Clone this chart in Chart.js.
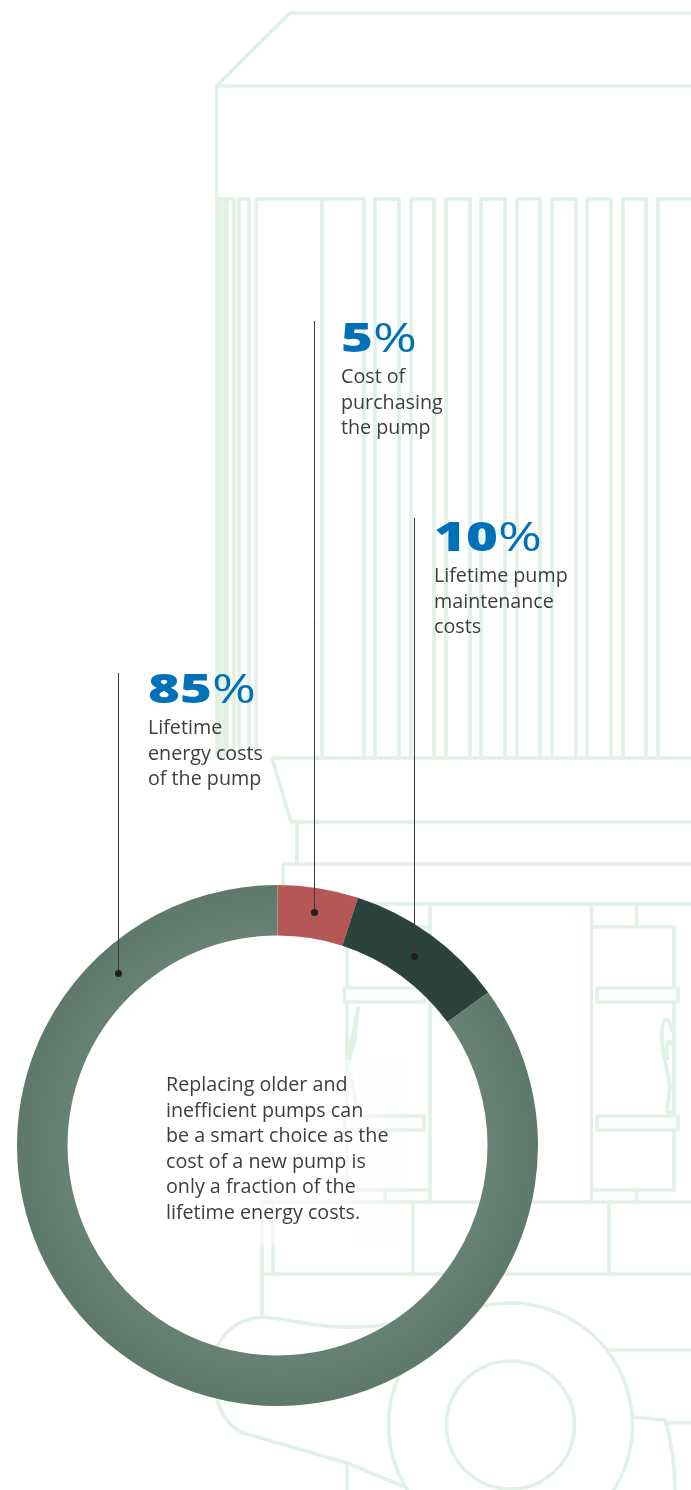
<!DOCTYPE html>
<html>
<head>
<meta charset="utf-8">
<title>Pump lifetime costs</title>
<script src="https://cdn.jsdelivr.net/npm/chart.js@4/dist/chart.umd.min.js"></script>
<style>
    html, body { margin: 0; padding: 0; background: #fff; }
    #page { position: relative; width: 691px; height: 1490px; overflow: hidden; font-family: "Open Sans", sans-serif; color: #3d3d3d; }
    #pump, #costChart { position: absolute; left: 0; top: 0; }
    #veil { position: absolute; left: 150px; top: 1060px; width: 260px; height: 185px; background: linear-gradient(to right, rgba(255,255,255,.55) 80%, rgba(255,255,255,0)); }
    .callout { position: absolute; }
    .callout .pct { height: 36px; font: 800 41px/36px "Open Sans", sans-serif; color: #0070b8; white-space: nowrap; transform-origin: 0 0; transform: scaleX(1.33); }
    .callout .pct span { font-weight: 400; font-size: 40px; }
    .callout .txt { margin-top: 9px; font-size: 19.7px; line-height: 25.6px; font-weight: 400; white-space: pre-line; }
    #note { position: absolute; left: 166px; top: 1071px; font-size: 19.7px; line-height: 25.6px; font-weight: 400; white-space: pre-line; }
</style>
</head>
<body>
<div id="page">
    <svg id="pump" width="691" height="1490" fill="none" stroke="#e2f1e5" stroke-width="3.6" stroke-linejoin="round">
        <path id="columns" d=""/>
        <path d="M691 13H290L216.5 86V199M216.5 86H691"/>
        <path d="M272 758H691M272 758L291 822H691M297 822V864M283 885V864H691"/>
        <path d="M347 904H691M430 904V1202M591.500 904V1202M636.500 904V927M591.500 927H674V987M347 927H430M347 927V987"/>
        <path d="M344.500 988H424V1002H344.500ZM597 988H678V1002H597Z"/>
        <path d="M344.500 1116H424V1130H344.500ZM597 1116H678V1130H597Z"/>
        <path d="M347 1002V1116M674 1002V1116M674 1130V1190H591.500M347 1130V1190H430M385 1190V1202M636.500 1190V1202"/>
        <path d="M358 1007C355 1025 352 1035 347 1067M358 1007L355 1040L347 1067M350 1073L358 1113"/>
        <path d="M672 1032C670 1020 664 1012 662 1030C660 1048 668 1072 670 1085L667 1112H672M672 1045C668 1036 665 1045 668 1060"/>
        <path d="M262 1202H691M262 1202V1317M273 1202V1274M413 1202V1274M609 1202V1274M262 1274H691"/>
        <circle cx="510.500" cy="1425" r="122"/>
        <circle cx="510.500" cy="1425" r="64"/>
        <path d="M607 1350H691M632 1417L665 1420C671 1440 675 1465 675 1490M667 1423H691"/>
        <path d="M393 1323C370 1328 345 1328 325 1326C300 1323 280 1318 262 1317C240 1319 225 1330 217 1347M217 1400C222 1416 230 1427 243 1433L347 1463L407 1488M347 1463V1490"/>
    </svg>
    <canvas id="costChart" width="691" height="1490"></canvas>
    <div id="veil"></div>
    <div class="callout" style="left:341px;top:318px"><div class="pct" data-i="0"></div><div class="txt" data-i="0"></div></div>
    <div class="callout" style="left:434px;top:517px"><div class="pct" data-i="1"></div><div class="txt" data-i="1"></div></div>
    <div class="callout" style="left:148px;top:669px"><div class="pct" data-i="2"></div><div class="txt" data-i="2"></div></div>
    <div id="note"></div>
</div>
<script>
// Chart data
const categories = ['Cost of\npurchasing\nthe pump', 'Lifetime pump\nmaintenance\ncosts', 'Lifetime\nenergy costs\nof the pump'];
const shares = [5, 10, 85];
const sliceColors = ['#b55755', '#2c423c', null];
const noteText = 'Replacing older and\ninefficient pumps can\nbe a smart choice as the\ncost of a new pump is\nonly a fraction of the\nlifetime energy costs.';

// Leader lines: angle on the ring (degrees from 12 o'clock), distance from centre, top of the line in px
const leaderAngles = [9, 36, -42.7];
const leaderRadii = [236, 233.500, 234];
const leaderTops = [321, 518, 673];

// Background pump columns, left and right edge
const columnEdges = [[217, 220], [220, 224], [224, 227], [227, 234], [239, 249], [256, 322], [322, 364], [375, 399], [411, 434], [446, 470], [481, 505], [517, 540], [552, 576], [587, 611], [623, 646], [658, 700]];

document.getElementById('columns').setAttribute('d',
    columnEdges.map(e => `M${e[0]} 758V199H${e[1]}V758`).join(''));

document.querySelectorAll('.pct').forEach(el => {
    el.innerHTML = `${shares[el.dataset.i]}<span>%</span>`;
});
document.querySelectorAll('.txt').forEach(el => {
    el.textContent = categories[el.dataset.i];
});
document.getElementById('note').textContent = noteText;

// Leader lines with a dot, placed from the ring geometry
const leaderPlugin = {
    id: 'leaders',
    afterDatasetsDraw(chart) {
        const arc = chart.getDatasetMeta(0).data[0];
        const ctx = chart.ctx;
        ctx.save();
        leaderAngles.forEach((deg, i) => {
            const a = deg * Math.PI / 180;
            const x = Math.floor(arc.x + leaderRadii[i] * Math.sin(a)) + 0.5;
            const y = arc.y - leaderRadii[i] * Math.cos(a);
            ctx.strokeStyle = '#3a3a3a';
            ctx.lineWidth = 1;
            ctx.beginPath();
            ctx.moveTo(x, leaderTops[i]);
            ctx.lineTo(x, y);
            ctx.stroke();
            ctx.fillStyle = '#1f1f22';
            ctx.beginPath();
            ctx.arc(x, y, 3.5, 0, Math.PI * 2);
            ctx.fill();
        });
        ctx.restore();
    }
};

function sliceColor(context) {
    const color = sliceColors[context.dataIndex];
    if (color) return color;
    const arc = context.chart.getDatasetMeta(0).data[0];
    if (!arc || !arc.outerRadius) return '#637d71';
    const g = context.chart.ctx.createRadialGradient(arc.x, arc.y, arc.innerRadius, arc.x, arc.y, arc.outerRadius);
    g.addColorStop(0, '#678174');
    g.addColorStop(1, '#5e786c');
    return g;
}

new Chart(document.getElementById('costChart'), {
    type: 'doughnut',
    data: {
        labels: categories,
        datasets: [{
            data: shares,
            backgroundColor: sliceColor,
            borderWidth: 0
        }]
    },
    options: {
        responsive: false,
        animation: false,
        cutout: '80.6%',
        layout: { padding: { left: 17, right: 153, top: 885, bottom: 84 } },
        plugins: {
            legend: { display: false },
            tooltip: { enabled: false }
        }
    },
    plugins: [leaderPlugin]
});
</script>
</body>
</html>
